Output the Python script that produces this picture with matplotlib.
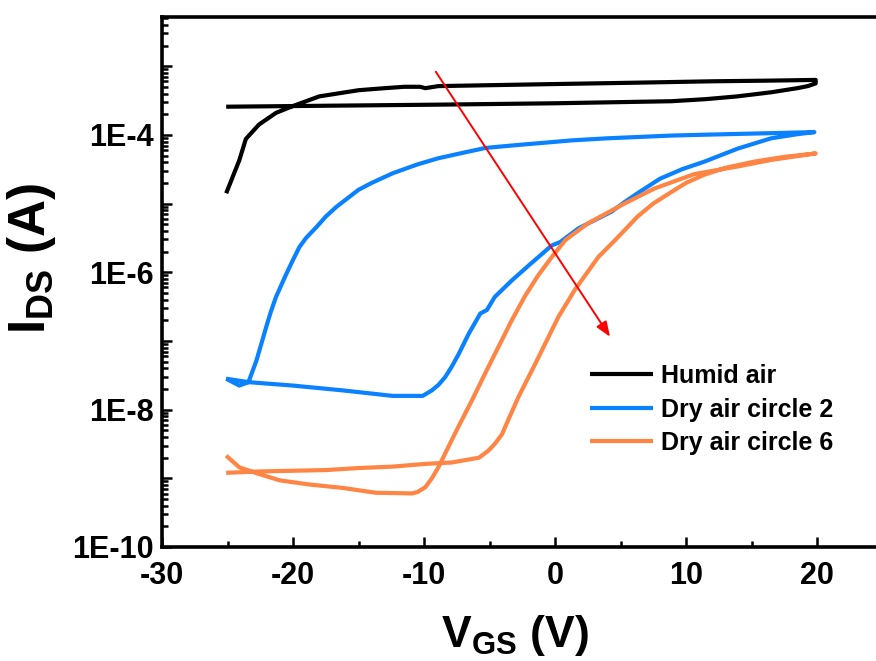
import numpy as np
import matplotlib
matplotlib.use("Agg")
import matplotlib.pyplot as plt
from matplotlib.ticker import FixedLocator, FixedFormatter

plt.rcParams['font.family'] = ['Liberation Sans', 'DejaVu Sans']
plt.rcParams['font.weight'] = 'bold'
plt.rcParams['axes.unicode_minus'] = False
plt.rcParams['mathtext.fontset'] = 'custom'
plt.rcParams['mathtext.rm'] = 'Liberation Sans:bold'
plt.rcParams['mathtext.it'] = 'Liberation Sans:bold'
plt.rcParams['mathtext.bf'] = 'Liberation Sans:bold'

# humid air: rising branch, then back along the flat branch
humid_v = [-25.1, -24.1, -23.6, -22.6, -21.3, -20.0, -19.0, -18.0, -17.0, -16.0, -15.0,
           -13.0, -11.5, -10.3, -9.9, -8.9, 0.0, 6.3, 12.0, 16.5, 19.9,
           19.9, 19.3, 18.5, 17.5, 16.5, 15.2, 13.9, 11.5, 8.9, 0.0, -8.9, -25.1]
humid_logi = [-4.85, -4.37, -4.06, -3.85, -3.68, -3.58, -3.51, -3.44, -3.41, -3.38, -3.35,
              -3.32, -3.30, -3.30, -3.32, -3.29, -3.26, -3.24, -3.22, -3.21, -3.20,
              -3.25, -3.29, -3.32, -3.35, -3.38, -3.41, -3.44, -3.48, -3.51, -3.54, -3.56, -3.59]

# dry air circle 2
dry2_v = [-25.1, -23.4, -20.0, -16.2, -12.4, -10.1, -9.4, -8.9, -8.4, -7.9, -7.35, -6.6,
          -5.7, -5.2, -4.6, -3.3, -2.0, -0.25, 0.4, 1.8, 4.3, 5.3, 6.3, 8.0, 9.7, 11.4,
          13.95, 16.5, 18.5, 19.8,
          16.5, 12.0, 8.9, 4.0, 1.3, -3.0, -5.3, -7.0, -8.9, -10.5, -12.4, -14.0, -15.0,
          -16.7, -17.5, -18.2, -19.0, -19.5, -20.0, -20.5, -21.3, -21.7, -22.05, -22.4,
          -22.8, -23.4, -24.1, -25.1]
dry2_logi = [-7.55, -7.60, -7.65, -7.72, -7.80, -7.80, -7.72, -7.64, -7.53, -7.38, -7.19, -6.90,
             -6.60, -6.55, -6.36, -6.12, -5.90, -5.61, -5.56, -5.36, -5.12, -4.98, -4.85, -4.64,
             -4.50, -4.39, -4.20, -4.05, -3.99, -3.96,
             -3.975, -3.995, -4.01, -4.05, -4.08, -4.15, -4.19, -4.26, -4.34, -4.43, -4.56, -4.70,
             -4.80, -5.05, -5.19, -5.34, -5.50, -5.63, -5.82, -6.02, -6.36, -6.58, -6.80, -7.03,
             -7.29, -7.60, -7.65, -7.55]

# dry air circle 6
dry6_v = [-25.1, -22.55, -17.5, -14.95, -12.4, -9.9, -7.9, -5.8, -5.1, -4.6, -4.05, -3.5,
          -2.8, -1.5, 0.26, 1.5, 3.3, 4.6, 5.5, 6.3, 7.5, 8.9, 10.0, 11.4, 13.0, 15.2,
          17.5, 19.9,
          16.5, 13.95, 10.65, 7.6, 5.1, 2.5, 0.8, -0.25, -1.3, -2.3, -3.3, -4.3, -5.3,
          -6.3, -7.35, -7.9, -8.9, -9.4, -9.9, -10.5, -10.9, -13.7, -16.2, -18.75, -21.0,
          -22.55, -24.1, -25.1]
dry6_logi = [-8.92, -8.90, -8.88, -8.85, -8.83, -8.79, -8.77, -8.70, -8.60, -8.50, -8.36, -8.12,
             -7.82, -7.33, -6.65, -6.26, -5.78, -5.53, -5.35, -5.19, -5.00, -4.83, -4.70,
             -4.58, -4.48, -4.39, -4.32, -4.27,
             -4.365, -4.46, -4.57, -4.78, -5.02, -5.29, -5.53, -5.78, -6.05, -6.35, -6.70,
             -7.08, -7.46, -7.85, -8.24, -8.45, -8.84, -9.00, -9.13, -9.20, -9.22, -9.21,
             -9.14, -9.09, -9.03, -8.94, -8.84, -8.67]

labels = ["Humid air", "Dry air circle 2", "Dry air circle 6"]
colors = ["black", "#0A82FF", "#FF8544"]

ytick_vals = [1e-10, 1e-9, 1e-8, 1e-7, 1e-6, 1e-5, 1e-4, 1e-3]
ytick_labels = ["1E-10", "", "1E-8", "", "1E-6", "", "1E-4", ""]

fig = plt.figure(figsize=(8.76, 6.61), dpi=100)
ax = fig.add_axes([162 / 876, 114 / 661, (882.5 - 162) / 876, (547 - 17) / 661])

series = [(humid_v, humid_logi), (dry2_v, dry2_logi), (dry6_v, dry6_logi)]
for (v, li), lab, c in zip(series, labels, colors):
    ax.plot(v, 10.0 ** np.array(li), color=c, lw=3, label=lab,
            solid_joinstyle='round', solid_capstyle='butt')

ax.annotate("", xy=(4.2, 1.15e-7), xytext=(-9.1, 8.3e-4),
            arrowprops=dict(arrowstyle="-|>,head_length=0.9,head_width=0.35",
                            color="red", lw=1.4, shrinkA=0, shrinkB=0))

ax.set_yscale("log")
ax.set_xlim(-30, 25)
ax.set_ylim(1e-10, 5.2e-3)

ax.xaxis.set_major_locator(FixedLocator([-30, -20, -10, 0, 10, 20]))
ax.xaxis.set_minor_locator(FixedLocator([-25, -15, -5, 5, 15]))
ax.yaxis.set_major_locator(FixedLocator(ytick_vals))
ax.yaxis.set_major_formatter(FixedFormatter(ytick_labels))
minor = [m * 10.0 ** e for e in range(-10, -2) for m in range(2, 10)]
ax.yaxis.set_minor_locator(FixedLocator(minor))
ax.yaxis.set_minor_formatter(FixedFormatter([""] * len(minor)))

ax.tick_params(which='both', direction='in', width=1.8, labelsize=22, top=False, right=False)
ax.tick_params(which='major', length=7.5)
ax.tick_params(axis='y', which='major', pad=6)
ax.tick_params(axis='x', which='major', pad=10)
ax.tick_params(which='minor', length=4)
for lab in ax.get_xticklabels() + ax.get_yticklabels():
    lab.set_fontweight('bold')
for s in ax.spines.values():
    s.set_linewidth(2.6)

ax.set_xlabel(r"$\mathrm{V_{GS}}$ (V)", fontsize=32, fontweight='bold')
ax.xaxis.set_label_coords(0.49, -0.125)
ax.set_ylabel(r"$\mathrm{I_{DS}}$ (A)", fontsize=37, fontweight='bold')
ax.yaxis.set_label_coords(-0.145, 0.545)

ax.legend(loc='upper left', bbox_to_anchor=(590 / 876, 1 - 364 / 661),
          bbox_transform=fig.transFigure, frameon=False,
          handlelength=2.5, handletextpad=0.35, labelspacing=0.38,
          borderpad=0, borderaxespad=0, prop={'weight': 'bold', 'size': 18})

fig.savefig("out.png", dpi=100)
